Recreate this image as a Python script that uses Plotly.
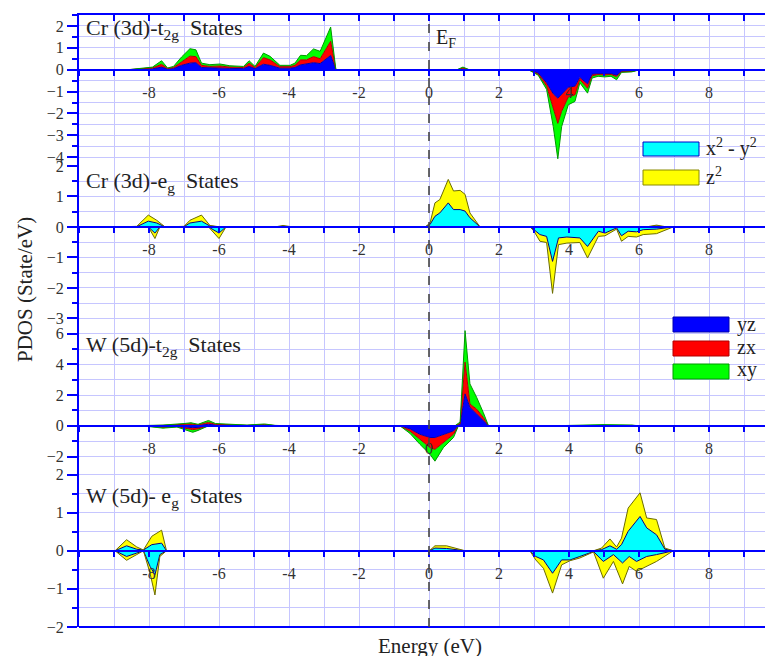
import plotly.graph_objects as go

# ---------------- data ----------------
# Panel 1: Cr (3d) t2g  (spin up / spin down), stacked yz, zx, xy
cr_t2g_e_up = [-8.6, -7.9, -7.64, -7.47, -7.3, -7.07, -6.83, -6.66, -6.5, -6.26, -5.97, -5.69, -5.3,
               -5.14, -4.97, -4.73, -4.54, -4.26, -3.97, -3.83, -3.67, -3.5, -3.3, -3.11, -2.81, -2.66,
               -0.5, 0.8, 0.97, 1.15]
cr_t2g_yz_up = [0, .04, .12, .03, .05, .2, .3, .32, .1, .08, .08, .06, .05, .15, .05, .25, .2, .07, .07, .1,
                .22, .25, .32, .28, .65, 0, 0, 0, .03, 0]
cr_t2g_zx_up = [0, .04, .13, .02, .05, .15, .32, .28, .1, .07, .09, .06, .05, .15, .05, .3, .25, .07, .07, .1,
                .23, .2, .28, .22, .65, 0, 0, 0, .04, 0]
cr_t2g_xy_up = [0, .04, .16, .03, .05, .23, .34, .31, .1, .08, .09, .06, .05, .11, .05, .21, .16, .06, .06, .1,
                .21, .19, .35, .34, .65, 0, 0, 0, .05, 0]

cr_t2g_e_dn = [2.84, 3.12, 3.36, 3.55, 3.68, 3.79, 3.98, 4.17, 4.31, 4.53, 4.66, 4.83, 5.02, 5.2, 5.36, 5.5,
               5.79, 6.03]
cr_t2g_yz_dn = [0, -.15, -.6, -1.1, -1.3, -1.1, -.8, -.75, -.35, -.65, -.2, -.18, -.18, -.18, -.25, -.08, -.07, 0]
cr_t2g_zx_dn = [0, -.05, -.15, -.6, -1.15, -.8, -.45, -.4, -.1, -.2, -.08, -.04, -.06, -.04, -.07, -.02, -.01, 0]
cr_t2g_xy_dn = [0, -.05, -.15, -.9, -1.62, -.7, -.35, -.3, -.15, -.22, -.1, -.08, -.09, -.08, -.14, -.02, -.02, 0]

# Panel 2: Cr (3d) eg, stacked x2-y2, z2
cr_eg_e_up = [-8.9, -8.35, -8.02, -7.78, -7.54, -7.2, -7.0, -6.83, -6.5, -6.26, -5.97, -4.4, -4.17, -3.9,
              -0.11, 0.03, 0.17, 0.31, 0.55, 0.7, 0.89, 1.03, 1.17, 1.46, 6.2, 6.5, 6.8]
cr_eg_x2y2_up = [0, .01, .19, .13, 0, .01, .01, .13, .19, .03, 0, 0, .02, 0, 0, .08, .35, .46, .79, .57, .57,
                 .52, .3, 0, 0, .03, 0]
cr_eg_z2_up = [0, .01, .2, .09, 0, .01, .01, .09, .2, .02, 0, 0, .03, 0, 0, .05, .44, .44, .77, .61, .63, .55,
               .16, 0, 0, .03, 0]

cr_eg_e_dn = [-8.2, -8.02, -7.83, -7.69, -6.3, -6.0, -5.8, 2.89, 3.0, 3.17, 3.36, 3.53, 3.7, 3.94, 4.31, 4.53,
              4.84, 5.03, 5.36, 5.5, 5.69, 5.93, 6.12, 6.5, 6.98]
cr_eg_x2y2_dn = [0, 0, -.2, 0, 0, -.2, 0, 0, -.09, -.25, -.31, -1.13, -.36, -.33, -.36, -.64, -.14, -.2, -.03,
                 -.29, -.14, -.16, -.09, -.07, 0]
cr_eg_z2_dn = [0, 0, -.18, 0, 0, -.18, 0, 0, -.05, -.22, -.2, -1.05, -.22, -.2, -.15, -.38, -.17, -.09, -.04,
               -.18, -.17, -.17, -.16, -.15, 0]

# Panel 3: W (5d) t2g
w_t2g_e_up = [-8.5, -7.6, -7.0, -6.8, -6.6, -6.3, -6.1, -5.6, -5.2, -4.7, -4.4, -4.0, 0.74, 0.89, 1.03, 1.17,
              1.36, 1.55, 1.7, 3.5, 5.0, 5.8, 6.0]
w_t2g_yz_up = [0, .02, .05, .06, .03, .1, .05, .02, .01, .04, .01, 0, 0, .08, 2.08, 1.2, .77, .33, 0, 0, .03,
               .02, 0]
w_t2g_zx_up = [0, .01, .05, .06, .03, .12, .05, .03, .02, .04, .01, 0, 0, .07, 2.07, .22, .32, .22, 0, 0, .02,
               .01, 0]
w_t2g_xy_up = [0, .02, .05, .08, .04, .13, .05, .03, .02, .04, .01, 0, 0, .1, 2.05, 1.31, .77, .32, 0, 0, .03,
               .02, 0]

w_t2g_e_dn = [-8.2, -7.6, -7.2, -6.9, -6.75, -6.6, -6.3, -0.83, -0.54, -0.26, 0.03, 0.17, 0.41, 0.7, 0.84]
w_t2g_yz_dn = [0, -.05, -.02, -.1, -.12, -.1, 0, 0, -.2, -.55, -.76, -.76, -.55, -.33, 0]
w_t2g_zx_dn = [0, -.05, -.03, -.1, -.13, -.1, 0, 0, -.15, -.32, -.66, -.77, -.55, -.22, 0]
w_t2g_xy_dn = [0, -.05, -.03, -.1, -.17, -.1, 0, 0, -.15, -.33, -.44, -.77, -.32, -.21, 0]

# Panel 4: W (5d) eg
w_eg_e_up = [-8.97, -8.64, -8.35, -8.16, -7.92, -7.64, -7.5, 0.01, 0.17, 0.5, 1.03, 4.7, 4.93, 5.17, 5.36, 5.5,
             5.69, 6.03, 6.22, 6.5, 6.74, 6.98]
w_eg_x2y2_up = [0, .13, .04, .02, .16, .2, 0, 0, .07, .06, 0, 0, .03, .13, .04, .16, .51, .9, .6, .42, .04, 0]
w_eg_z2_up = [0, .16, .06, 0, .22, .34, 0, 0, .06, .07, 0, 0, .04, .18, .06, .17, .61, .62, .26, .4, .03, 0]

w_eg_e_dn = [-8.97, -8.64, -8.35, -8.16, -7.97, -7.83, -7.69, -7.5, 2.88, 3.05, 3.27, 3.53, 3.79, 4.03, 4.31,
             4.7, 4.98, 5.27, 5.53, 5.72, 5.93, 6.22, 6.5, 6.98]
w_eg_x2y2_dn = [0, -.15, -.06, 0, -.41, -.63, -.1, 0, 0, -.15, -.24, -.59, -.24, -.24, -.15, -.02, -.28, -.1,
                -.32, -.15, -.28, -.15, -.1, 0]
w_eg_z2_dn = [0, -.1, -.04, 0, -.18, -.53, -.05, 0, 0, -.09, -.22, -.52, -.13, -.02, -.04, -.01, -.44, -.18,
              -.55, -.26, -.26, -.26, -.18, 0]

panel_titles = ["Cr (3d)-t<sub>2g</sub>  States", "Cr (3d)-e<sub>g</sub>  States",
                "W (5d)-t<sub>2g</sub>  States", "W (5d)- e<sub>g</sub>  States"]
x_tick_values = list(range(-10, 10))
x_tick_labels = ["" if (v % 2 or v == -10) else str(v) for v in x_tick_values]

# ---------------- styling / layout ----------------
# The page body has an 8px margin, so the figure is sized to the window minus that offset.
OFF = 8
W, H = 773 - OFF, 656 - OFF
PLOT_LEFT, PLOT_TOP, PLOT_BOTTOM = 79, 15, 627          # in window pixels
L, T = PLOT_LEFT - OFF, PLOT_TOP - OFF
B = H - (PLOT_BOTTOM - OFF)
R = 0
PW, PH = W - L - R, H - T - B
FONT = "Liberation Serif"
BLUE_AX = "#0000ff"
GRID = "#c6c6ff"
TXT = "#333333"

def px_x(px):
    return (px - PLOT_LEFT) / PW

def px_y(py):
    return (PLOT_BOTTOM - py) / PH

x_range = [-10, -10 + PW / 35.0]
bounds = [15, 166, 326, 465, 627]
y_ranges = [[-4.4, 2.5], [-3.25, 2.0], [-2.55, 6.5], [-2.0, 2.25]]
y_dticks = [1, 1, 2, 1]

t2g_style = [("yz", "#0000ff", "#0000b0"), ("zx", "#ff0000", "#b00000"), ("xy", "#00ff00", "#009900")]
eg_style = [("x2-y2", "#00ffff", "#000080"), ("z2", "#ffff00", "#6b6b00")]

panels = [
    (cr_t2g_e_up, [cr_t2g_yz_up, cr_t2g_zx_up, cr_t2g_xy_up],
     cr_t2g_e_dn, [cr_t2g_yz_dn, cr_t2g_zx_dn, cr_t2g_xy_dn], t2g_style),
    (cr_eg_e_up, [cr_eg_x2y2_up, cr_eg_z2_up], cr_eg_e_dn, [cr_eg_x2y2_dn, cr_eg_z2_dn], eg_style),
    (w_t2g_e_up, [w_t2g_yz_up, w_t2g_zx_up, w_t2g_xy_up],
     w_t2g_e_dn, [w_t2g_yz_dn, w_t2g_zx_dn, w_t2g_xy_dn], t2g_style),
    (w_eg_e_up, [w_eg_x2y2_up, w_eg_z2_up], w_eg_e_dn, [w_eg_x2y2_dn, w_eg_z2_dn], eg_style),
]

fig = go.Figure()
layout = dict(width=W, height=H, margin=dict(l=L, r=R, t=T, b=B, autoexpand=False),
              paper_bgcolor="white", plot_bgcolor="white", showlegend=False,
              font=dict(family=FONT, color=TXT))

for k, (eu, ups, ed, dns, style) in enumerate(panels):
    i = k + 1
    xa = "x" if i == 1 else f"x{i}"
    ya = "y" if i == 1 else f"y{i}"
    for grp, ee, vals in (("up", eu, ups), ("dn", ed, dns)):
        for (name, fc, lc), v in zip(style, vals):
            fig.add_trace(go.Scatter(x=ee, y=v, xaxis=xa, yaxis=ya, mode="lines",
                                     stackgroup=f"p{i}{grp}", fillcolor=fc,
                                     line=dict(color=lc, width=1), name=name, hoverinfo="skip"))
    lo, hi = px_y(bounds[k + 1]), px_y(bounds[k])
    r0, r1 = y_ranges[k]
    zero_pos = lo + (0 - r0) / (r1 - r0) * (hi - lo)
    d = y_dticks[k]
    layout["xaxis" if i == 1 else f"xaxis{i}"] = dict(
        domain=[0, 1], range=x_range, anchor="free", position=zero_pos, automargin=False,
        tickmode="array", tickvals=x_tick_values, ticktext=x_tick_labels,
        ticks="outside", ticklen=5, tickwidth=1.5, tickcolor=BLUE_AX,
        showline=True, linecolor=BLUE_AX, linewidth=2,
        showgrid=True, gridcolor=GRID, gridwidth=1, zeroline=False,
        tickfont=dict(family=FONT, size=16, color=TXT), ticklabelstandoff=3)
    layout["yaxis" if i == 1 else f"yaxis{i}"] = dict(
        domain=[lo, hi], range=[r0, r1], anchor=xa, automargin=False,
        showline=True, linecolor=BLUE_AX, linewidth=2,
        ticks="outside", ticklen=10, tickwidth=1.5, tickcolor=BLUE_AX,
        tick0=0, dtick=d, showgrid=True, gridcolor=GRID, gridwidth=1, zeroline=False,
        minor=dict(dtick=d / 2, tick0=0, ticks="outside", ticklen=5, tickwidth=1.5,
                   tickcolor=BLUE_AX, showgrid=True, gridcolor=GRID, gridwidth=1),
        tickfont=dict(family=FONT, size=16, color=TXT), ticklabelstandoff=0)

# top frame axis with inward ticks
fig.add_trace(go.Scatter(x=[0], y=[0], xaxis="x5", yaxis="y", mode="markers",
                         marker=dict(opacity=0), hoverinfo="skip", showlegend=False))
layout["xaxis5"] = dict(overlaying="x", anchor="y", side="top", range=x_range, automargin=False,
                        tickmode="array", tickvals=x_tick_values, showticklabels=False,
                        ticks="inside", ticklen=6, tickwidth=1.5, tickcolor=BLUE_AX,
                        showline=True, linecolor=BLUE_AX, linewidth=2, showgrid=False, zeroline=False)

shapes = [
    dict(type="line", xref="paper", yref="paper", x0=0, x1=1, y0=0, y1=0,
         line=dict(color=BLUE_AX, width=2)),
    dict(type="line", xref="x", yref="paper", x0=0, x1=0, y0=0, y1=1,
         line=dict(color="#444444", width=1.6, dash="dash")),
]
annotations = []

# panel titles
title_tops = [13, 166, 330, 481]
for txt, ty in zip(panel_titles, title_tops):
    annotations.append(dict(text=txt, xref="paper", yref="paper", x=px_x(84), y=px_y(ty),
                            xanchor="left", yanchor="top", showarrow=False,
                            font=dict(family=FONT, size=22, color="#222222")))

# E_F label
annotations.append(dict(text="E<sub>F</sub>", xref="paper", yref="paper", x=px_x(434), y=px_y(24),
                        xanchor="left", yanchor="top", showarrow=False,
                        font=dict(family=FONT, size=20, color="#222222")))

# legends (boxes + labels)
def legend_box(x0, y0, x1, y1, fc, lc):
    shapes.append(dict(type="rect", xref="paper", yref="paper", x0=px_x(x0), x1=px_x(x1),
                       y0=px_y(y1), y1=px_y(y0), fillcolor=fc, line=dict(color=lc, width=1)))

def legend_text(txt, x, yc):
    annotations.append(dict(text=txt, xref="paper", yref="paper", x=px_x(x), y=px_y(yc),
                            xanchor="left", yanchor="middle", showarrow=False,
                            font=dict(family=FONT, size=20, color="#222222")))

legend_box(643, 142, 699, 156, "#00ffff", "#0000cc")
legend_text("x<sup>2</sup> - y<sup>2</sup>", 704, 147)
legend_box(643, 170, 699, 185, "#ffff00", "#8a8a00")
legend_text("z<sup>2</sup>", 704, 176)

legend_box(673, 317, 729, 332, "#0000ff", "#0000b0")
legend_text("yz", 735, 324)
legend_box(673, 341, 729, 356, "#ff0000", "#b00000")
legend_text("zx", 735, 347)
legend_box(673, 364, 729, 379, "#00ff00", "#009900")
legend_text("xy", 735, 370)

# axis titles
annotations.append(dict(text="PDOS (State/eV)", xref="paper", yref="paper", x=px_x(25), y=px_y(290),
                        xanchor="center", yanchor="middle", textangle=-90, showarrow=False,
                        font=dict(family=FONT, size=21, color="#222222")))
annotations.append(dict(text="Energy (eV)", xref="paper", yref="paper", x=px_x(430), y=px_y(646),
                        xanchor="center", yanchor="middle", showarrow=False,
                        font=dict(family=FONT, size=21, color="#222222")))

layout["shapes"] = shapes
layout["annotations"] = annotations
fig.update_layout(**layout)
fig.write_html("out.html")
